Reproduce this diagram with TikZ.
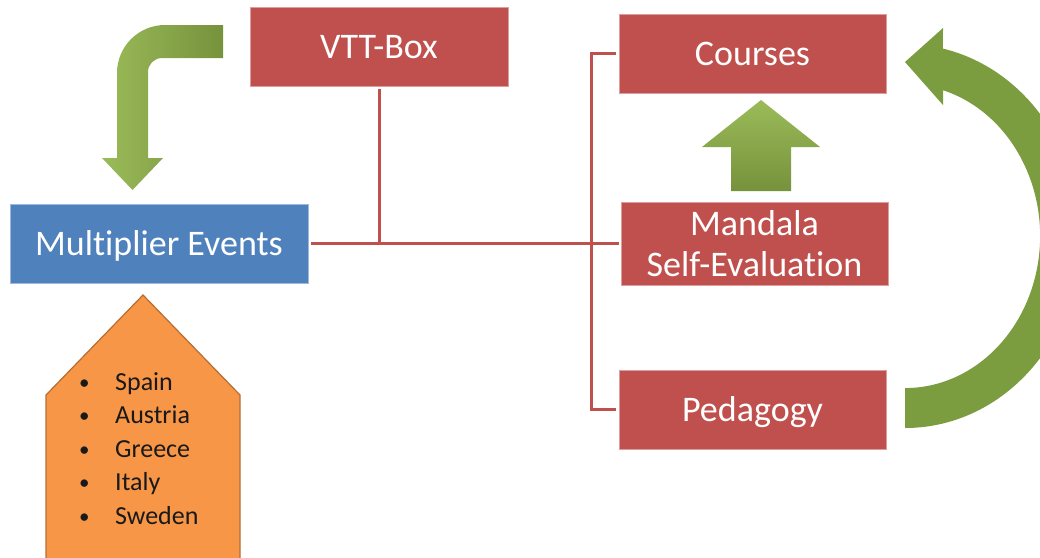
\documentclass[tikz,border=0pt]{standalone}
\usepackage{fontspec}
\setmainfont[Ligatures=NoCommon]{Carlito}
\definecolor{boxred}{HTML}{C0504D}
\definecolor{boxblue}{HTML}{4F81BD}
\definecolor{orangefill}{HTML}{F79646}
\definecolor{orangeline}{HTML}{B66D31}
\definecolor{glight}{HTML}{9BBB59}
\definecolor{gdark}{HTML}{76923C}
\definecolor{garc}{HTML}{7B9C3F}
\newcommand{\bulletmark}{\makebox[36pt][l]{\fontsize{21}{21}\selectfont\raisebox{1pt}{•}}}
\begin{document}
\begin{tikzpicture}[x=1pt,y=-1pt,
  redbox/.style={rectangle, fill=boxred, draw=boxred!55!white, line width=0.8pt,
    inner sep=0pt, text=white, font=\fontsize{36}{41.5}\selectfont, minimum height=79pt},
  oneline/.style={text height=24pt, text depth=0pt},
  bluebox/.style={redbox, fill=boxblue, draw=boxblue!55!white},
  link/.style={draw=boxred, line width=3pt},
  country/.style={anchor=base west, inner sep=0pt, font=\fontsize{26}{33}\selectfont, text=black!90},
  bendarrow/.style={left color=glight, right color=gdark},
  uparrow/.style={top color=glight, bottom color=gdark},
  curvearrow/.style={fill=garc},
  housebox/.style={fill=orangefill, draw=orangeline, line width=1.2pt}
]
\useasboundingbox (0,0) rectangle (1040,557);
\clip (0,0) rectangle (1040,557);

% boxes
\node[redbox, oneline, minimum width=258pt] (vtt) at (379,46.5) {VTT-Box};
\node[bluebox, oneline, minimum width=298pt] (mult) at (159,243.5) {Multiplier Events};
\node[redbox, oneline, minimum width=267pt] (courses) at (752.5,53.5) {Courses};
\node[redbox, align=center, minimum width=267pt, minimum height=83pt] (mandala) at (754.5,243.5) {Mandala\\Self-Evaluation};
\node[redbox, oneline, minimum width=267pt] (ped) at (752.5,409.5) {Pedagogy};

% connectors
\coordinate (bus) at (591,243.5);
\draw[link, shorten <=3pt] (vtt.south) -- (vtt.south |- mult.east);
\draw[link, shorten <=3pt, shorten >=2pt] (mult.east) -- (mandala.west);
\draw[link, shorten <=3pt, shorten >=3pt] (courses.west) -| (bus) |- (ped.west);

% bent arrow (top left)
\shade[bendarrow] (223,25) -- (165,25) arc[start angle=-90, end angle=-180, radius=48]
  -- (117,158) -- (102,158) -- (132.5,190) -- (163,158) -- (148,158) -- (148,72)
  arc[start angle=180, end angle=270, radius=14] -- (223,58) -- cycle;

% up arrow
\shade[uparrow] (761,100) -- (820,147) -- (791,147) -- (791,191) -- (731,191)
  -- (731,147) -- (702,147) -- cycle;

% curved arrow (right)
\fill[curvearrow] (905,428) arc[start angle=90, end angle=-77.5, x radius=175, y radius=192]
  -- (943,28) -- (905,62) -- (943,105) -- (943,90.2)
  arc[start angle=-73.7, end angle=90, x radius=135, y radius=152] -- cycle;

% orange pentagon
\draw[housebox] (143,295) -- (240,395) -- (240,575) -- (46,575) -- (46,395) -- cycle;
\node[country] (c1) at (79,390) {\bulletmark Spain};
\node[country] (c2) at (79,423.5) {\bulletmark Austria};
\node[country] (c3) at (79,457) {\bulletmark Greece};
\node[country] (c4) at (79,490.5) {\bulletmark Italy};
\node[country] (c5) at (79,524) {\bulletmark Sweden};
\end{tikzpicture}
\end{document}
